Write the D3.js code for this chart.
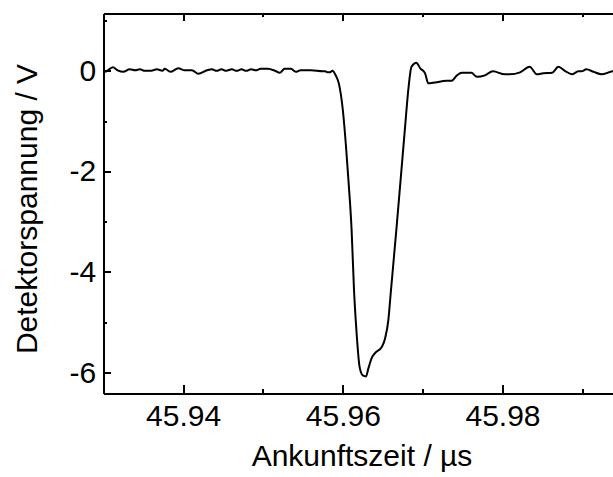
<!DOCTYPE html>
<html>
<head>
<meta charset="utf-8">
<script src="https://d3js.org/d3.v7.min.js"></script>
<style>
  html, body { margin: 0; padding: 0; background: #fff; }
  svg { display: block; font-family: "Liberation Sans", Arial, sans-serif; }
  .axis path, .axis line { stroke: #000; stroke-width: 2; shape-rendering: crispEdges; }
  .axis text { font-size: 30px; fill: #000; font-family: "Liberation Sans", Arial, sans-serif; }
</style>
</head>
<body>
<div id="chart"></div>
<script>
// arrival time in microseconds
var times = [
  45.9300, 45.9302, 45.9312, 45.9318, 45.9325, 45.9333, 45.9340, 45.9346, 45.9352, 45.9360,
  45.9367, 45.9374, 45.9377, 45.9384, 45.9394, 45.9402, 45.9411, 45.9419, 45.9430, 45.9436,
  45.9442, 45.9448, 45.9454, 45.9461, 45.9467, 45.9473, 45.9479, 45.9485, 45.9491, 45.9497,
  45.9506, 45.9515, 45.9521, 45.9527, 45.9535, 45.9541, 45.9547, 45.9560, 45.9575, 45.9578,
  45.9581, 45.9584, 45.9587, 45.9591, 45.9595, 45.9600, 45.9604, 45.9607, 45.9611, 45.9614,
  45.9617, 45.9621, 45.9625, 45.9629, 45.9632, 45.9636, 45.9640, 45.9649, 45.9653, 45.9657,
  45.9660, 45.9667, 45.9673, 45.9678, 45.9682, 45.9686, 45.9692, 45.9697, 45.9703,
  45.9707, 45.9713, 45.9730, 45.9736, 45.9743, 45.9749, 45.9761, 45.9768, 45.9778, 45.9788,
  45.9803, 45.9809, 45.9822, 45.9834, 45.9843, 45.9851, 45.9862, 45.9870, 45.9878, 45.9887,
  45.9895, 45.9899, 45.9905, 45.9914, 45.9924, 45.9938, 45.9960, 46.0000
];
// detector voltage in volts
var volts = [
  -0.02, -0.02, 0.07, 0.01, -0.02, 0.03, 0.01, 0.03, 0.00, 0.00,
  0.03, 0.00, 0.04, -0.02, 0.05, 0.01, 0.01, -0.06, 0.01, 0.03,
  0.00, 0.03, 0.00, 0.03, 0.00, 0.03, 0.00, 0.03, 0.01, 0.04,
  0.04, 0.00, -0.04, 0.04, 0.04, -0.02, 0.01, 0.01, -0.01, -0.01,
  -0.03, -0.03, 0.00, -0.09, -0.25, -0.78, -1.51, -2.17, -3.17, -4.36,
  -5.16, -5.89, -6.06, -6.08, -5.92, -5.72, -5.62, -5.49, -5.32, -4.96,
  -4.42, -3.17, -2.05, -1.11, -0.38, 0.08, 0.16, 0.05, -0.05,
  -0.25, -0.24, -0.20, -0.20, -0.09, -0.04, -0.04, -0.12, -0.09, -0.01,
  -0.07, -0.07, -0.03, 0.08, -0.07, -0.05, -0.04, 0.08, 0.00, -0.07,
  -0.01, -0.01, 0.03, -0.02, -0.07, -0.01, 0.00, -0.01
];

var xMajor = [45.94, 45.96, 45.98];
var xMinor = [45.95, 45.97, 45.99];
var yMajor = [0, -2, -4, -6];
var yMinor = [1, -1, -3, -5];

var xTitle = "Ankunftszeit / \u00b5s";
var yTitle = "Detektorspannung / V";

var width = 613, height = 477;
var plotLeft = 103.3, plotTop = 13, plotBottom = 393, plotRight = 662.2;

var noLabel = function () { return ""; };

var svg = d3.select("#chart").append("svg")
  .attr("width", width)
  .attr("height", height);

var x = d3.scaleLinear().domain([45.93, 46.00]).range([plotLeft, plotRight]);
var y = d3.scaleLinear().domain([-6.41, 1.15]).range([plotBottom, plotTop]);

svg.append("defs").append("clipPath").attr("id", "plotclip")
  .append("rect")
  .attr("x", plotLeft).attr("y", plotTop)
  .attr("width", plotRight - plotLeft).attr("height", plotBottom - plotTop);

var points = times.map(function (t, i) { return [t, volts[i]]; });

var line = d3.line()
  .curve(d3.curveMonotoneX)
  .x(function (d) { return x(d[0]); })
  .y(function (d) { return y(d[1]); });

svg.append("path")
  .datum(points)
  .attr("clip-path", "url(#plotclip)")
  .attr("fill", "none")
  .attr("stroke", "#000")
  .attr("stroke-width", 2)
  .attr("stroke-linejoin", "round")
  .attr("d", line);

// bottom axis
svg.append("g").attr("class", "axis")
  .attr("transform", "translate(0," + plotBottom + ")")
  .call(d3.axisBottom(x).tickValues(xMinor).tickSize(-4).tickSizeOuter(0).tickFormat(noLabel));
svg.append("g").attr("class", "axis")
  .attr("transform", "translate(0," + plotBottom + ")")
  .call(d3.axisBottom(x).tickValues(xMajor).tickSize(-8).tickSizeOuter(0).tickPadding(12)
    .tickFormat(d3.format(".2f")));

// top axis
svg.append("g").attr("class", "axis")
  .attr("transform", "translate(0," + plotTop + ")")
  .call(d3.axisTop(x).tickValues(xMinor).tickSize(-4).tickSizeOuter(0).tickFormat(noLabel));
svg.append("g").attr("class", "axis")
  .attr("transform", "translate(0," + plotTop + ")")
  .call(d3.axisTop(x).tickValues(xMajor).tickSize(-8).tickSizeOuter(0).tickFormat(noLabel));

// left axis
svg.append("g").attr("class", "axis")
  .attr("transform", "translate(" + plotLeft + ",0)")
  .call(d3.axisLeft(y).tickValues(yMinor).tickSize(-4).tickSizeOuter(0).tickFormat(noLabel));
svg.append("g").attr("class", "axis y-major")
  .attr("transform", "translate(" + plotLeft + ",0)")
  .call(d3.axisLeft(y).tickValues(yMajor).tickSize(-8).tickSizeOuter(0).tickPadding(7)
    .tickFormat(function (d) { return d < 0 ? "-" + Math.abs(d) : String(d); }));

svg.append("text")
  .attr("x", 362)
  .attr("y", 466)
  .attr("text-anchor", "middle")
  .style("font-size", "30px")
  .text(xTitle);

svg.append("text")
  .attr("transform", "rotate(-90)")
  .attr("x", -209)
  .attr("y", 37)
  .attr("text-anchor", "middle")
  .style("font-size", "30px")
  .text(yTitle);
</script>
</body>
</html>
